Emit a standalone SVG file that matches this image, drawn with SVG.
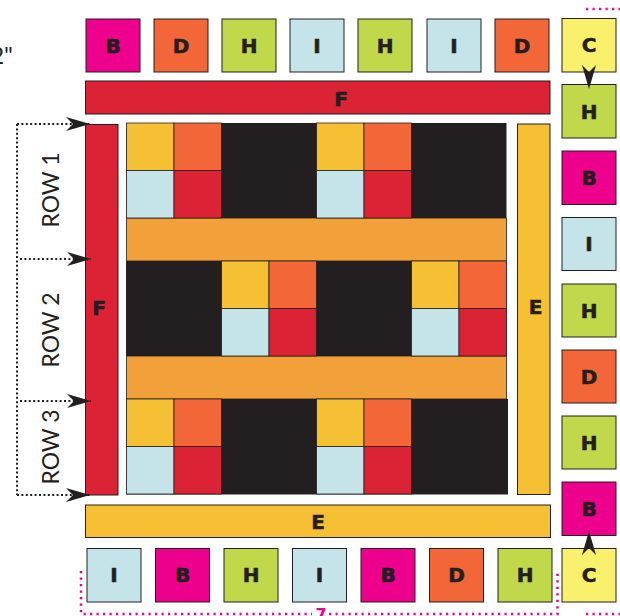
<svg xmlns="http://www.w3.org/2000/svg" width="620" height="616" viewBox="0 0 620 616">
<style>
.sq{stroke:#231F20;stroke-width:1}
.B{fill:#EC008C}.D{fill:#F26638}.H{fill:#C2D84B}.I{fill:#C5E4EA}.C{fill:#F9F06B}
.F{fill:#DC2235}.E{fill:#F6C035}.Y{fill:#F6C035}.R{fill:#DC2235}.O{fill:#F26638}.L{fill:#C5E4EA}
.band{fill:#F2A03A;stroke:#231F20;stroke-width:0.8}
.blk{fill:#231F20}
.cell{stroke:#231F20;stroke-width:0.8}
.lbl{font-family:"DejaVu Sans",sans-serif;font-weight:bold;font-size:20px;fill:#231F20;stroke:#231F20;stroke-width:0.6;text-anchor:middle;dominant-baseline:central}
.row{font-family:Lato,"Open Sans",sans-serif;font-size:23px;fill:#231F20;text-anchor:middle}
.dot{fill:none;stroke:#231F20;stroke-width:2;stroke-dasharray:2 2.4}
.pink{fill:none;stroke:#EC008C;stroke-width:2.5;stroke-dasharray:2.2 4.3}
.ah{fill:#231F20}
</style>
<defs>
<marker id="arr" markerUnits="userSpaceOnUse" markerWidth="26" markerHeight="16" viewBox="-25 -8 26 16" refX="0" refY="0" orient="auto">
<path class="ah" d="M0,0 L-24,-7 L-17,0 L-24,7 Z"/>
</marker>
</defs>

<!-- partial dimension text top-left -->
<text x="13" y="64" style="font-family:Lato,'Open Sans',sans-serif;font-size:24px;fill:#231F20;text-anchor:end">2"</text>

<!-- top row -->
<g id="top-B"><rect class="sq B" x="86" y="19" width="54" height="53"/><text class="lbl" x="113" y="45.5">B</text></g>
<g id="top-D"><rect class="sq D" x="154" y="19" width="54" height="53"/><text class="lbl" x="181" y="45.5">D</text></g>
<g id="top-H1"><rect class="sq H" x="222" y="19" width="54" height="53"/><text class="lbl" x="249" y="45.5">H</text></g>
<g id="top-I1"><rect class="sq I" x="290" y="19" width="54" height="53"/><text class="lbl" x="317" y="45.5">I</text></g>
<g id="top-H2"><rect class="sq H" x="358" y="19" width="54" height="53"/><text class="lbl" x="385" y="45.5">H</text></g>
<g id="top-I2"><rect class="sq I" x="427" y="19" width="54" height="53"/><text class="lbl" x="454" y="45.5">I</text></g>
<g id="top-D2"><rect class="sq D" x="495" y="19" width="54" height="53"/><text class="lbl" x="522" y="45.5">D</text></g>

<!-- right column -->
<g id="r-C1"><rect class="sq C" x="562" y="18.5" width="54" height="53.5"/><text class="lbl" x="589" y="45">C</text></g>
<g id="r-H1"><rect class="sq H" x="562" y="84.5" width="54" height="53.5"/><text class="lbl" x="589" y="111.5">H</text></g>
<g id="r-B1"><rect class="sq B" x="562" y="151" width="54" height="53.5"/><text class="lbl" x="589" y="178">B</text></g>
<g id="r-I"><rect class="sq I" x="562" y="217.5" width="54" height="53"/><text class="lbl" x="589" y="244">I</text></g>
<g id="r-H2"><rect class="sq H" x="562" y="284" width="54" height="53"/><text class="lbl" x="589" y="310.5">H</text></g>
<g id="r-D"><rect class="sq D" x="562" y="350" width="54" height="53"/><text class="lbl" x="589" y="376.5">D</text></g>
<g id="r-H3"><rect class="sq H" x="562" y="416" width="54" height="53"/><text class="lbl" x="589" y="442.5">H</text></g>
<g id="r-B2"><rect class="sq B" x="562" y="482" width="54" height="53.5"/><text class="lbl" x="589" y="508.5">B</text></g>
<g id="r-C2"><rect class="sq C" x="562" y="548.5" width="54" height="53.5"/><text class="lbl" x="589" y="575">C</text></g>

<!-- bottom row -->
<g id="b-I1"><rect class="sq I" x="87" y="548.5" width="54" height="53.5"/><text class="lbl" x="114" y="575">I</text></g>
<g id="b-B1"><rect class="sq B" x="155.5" y="548.5" width="54" height="53.5"/><text class="lbl" x="182.5" y="575">B</text></g>
<g id="b-H1"><rect class="sq H" x="224" y="548.5" width="54" height="53.5"/><text class="lbl" x="251" y="575">H</text></g>
<g id="b-I2"><rect class="sq I" x="292.5" y="548.5" width="54" height="53.5"/><text class="lbl" x="319.5" y="575">I</text></g>
<g id="b-B2"><rect class="sq B" x="361" y="548.5" width="54" height="53.5"/><text class="lbl" x="388" y="575">B</text></g>
<g id="b-D"><rect class="sq D" x="429.5" y="548.5" width="54" height="53.5"/><text class="lbl" x="456.5" y="575">D</text></g>
<g id="b-H2"><rect class="sq H" x="498" y="548.5" width="54" height="53.5"/><text class="lbl" x="525" y="575">H</text></g>

<!-- borders -->
<g id="border-F-top"><rect class="sq F" x="85.5" y="81" width="464.5" height="33"/><text class="lbl" x="341" y="99">F</text></g>
<g id="border-F-left"><rect class="sq F" x="85.5" y="124.5" width="32.5" height="370.5"/><text class="lbl" x="99" y="308">F</text></g>
<g id="border-E-right"><rect class="sq E" x="517.5" y="124" width="32.5" height="370.5"/><text class="lbl" x="535.5" y="307">E</text></g>
<g id="border-E-bottom"><rect class="sq E" x="85.5" y="505" width="465" height="32.5"/><text class="lbl" x="318" y="522">E</text></g>

<!-- inner quilt -->
<g id="quilt">
<rect class="blk" x="126.5" y="123" width="380" height="95"/>
<rect class="blk" x="126" y="261" width="380.5" height="95"/>
<rect class="blk" x="126.5" y="399" width="381.5" height="95.5"/>
<rect class="band" x="126.5" y="218" width="380" height="43"/>
<rect class="band" x="126.5" y="356" width="380" height="43"/>
<!-- row 1 -->
<rect class="cell Y" x="126.5" y="123" width="47.5" height="47.5"/>
<rect class="cell O" x="174" y="123" width="47.5" height="47.5"/>
<rect class="cell L" x="126.5" y="170.5" width="47.5" height="47.5"/>
<rect class="cell R" x="174" y="170.5" width="47.5" height="47.5"/>
<rect class="cell Y" x="316.5" y="123" width="47.5" height="47.5"/>
<rect class="cell O" x="364" y="123" width="47.5" height="47.5"/>
<rect class="cell L" x="316.5" y="170.5" width="47.5" height="47.5"/>
<rect class="cell R" x="364" y="170.5" width="47.5" height="47.5"/>
<!-- row 2 -->
<rect class="cell Y" x="221.5" y="261" width="47.5" height="47.5"/>
<rect class="cell O" x="269" y="261" width="47.5" height="47.5"/>
<rect class="cell L" x="221.5" y="308.5" width="47.5" height="47.5"/>
<rect class="cell R" x="269" y="308.5" width="47.5" height="47.5"/>
<rect class="cell Y" x="411.5" y="261" width="47.5" height="47.5"/>
<rect class="cell O" x="459" y="261" width="47.5" height="47.5"/>
<rect class="cell L" x="411.5" y="308.5" width="47.5" height="47.5"/>
<rect class="cell R" x="459" y="308.5" width="47.5" height="47.5"/>
<!-- row 3 -->
<rect class="cell Y" x="126.5" y="399" width="47.5" height="47.5"/>
<rect class="cell O" x="174" y="399" width="47.5" height="47.5"/>
<rect class="cell L" x="126.5" y="446.5" width="47.5" height="47.5"/>
<rect class="cell R" x="174" y="446.5" width="47.5" height="47.5"/>
<rect class="cell Y" x="316.5" y="399" width="47.5" height="47.5"/>
<rect class="cell O" x="364" y="399" width="47.5" height="47.5"/>
<rect class="cell L" x="316.5" y="446.5" width="47.5" height="47.5"/>
<rect class="cell R" x="364" y="446.5" width="47.5" height="47.5"/>
</g>

<!-- row labels -->
<g id="row-labels">
<text class="row" transform="translate(59,190) rotate(-90)">ROW 1</text>
<text class="row" transform="translate(59,330) rotate(-90)">ROW 2</text>
<text class="row" transform="translate(59,447) rotate(-90)">ROW 3</text>
</g>

<!-- connectors -->
<g id="connectors">
<path class="dot" d="M17,124 V495"/>
<path class="dot" d="M17,124 H90" marker-end="url(#arr)"/>
<path class="dot" d="M20,259 H91" marker-end="url(#arr)"/>
<path class="dot" d="M20,401 H91" marker-end="url(#arr)"/>
<path class="dot" d="M17,495 H90" marker-end="url(#arr)"/>
<path d="M589,66 V89" marker-end="url(#arr)" fill="none" stroke="none"/>
<path d="M589,554 V531" marker-end="url(#arr)" fill="none" stroke="none"/>
</g>

<!-- dimension lines -->
<g id="dimensions">
<path class="pink" d="M586,9 H620"/>
<path class="pink" d="M81,571 V614 H312"/>
<path class="pink" d="M329,614 H557.5 V571"/>
<path class="pink" d="M586,614 H620"/>
<text x="321" y="620" style="font-family:'DejaVu Sans',sans-serif;font-weight:bold;font-size:16px;fill:#EC008C;text-anchor:middle">7</text>
</g>
</svg>
